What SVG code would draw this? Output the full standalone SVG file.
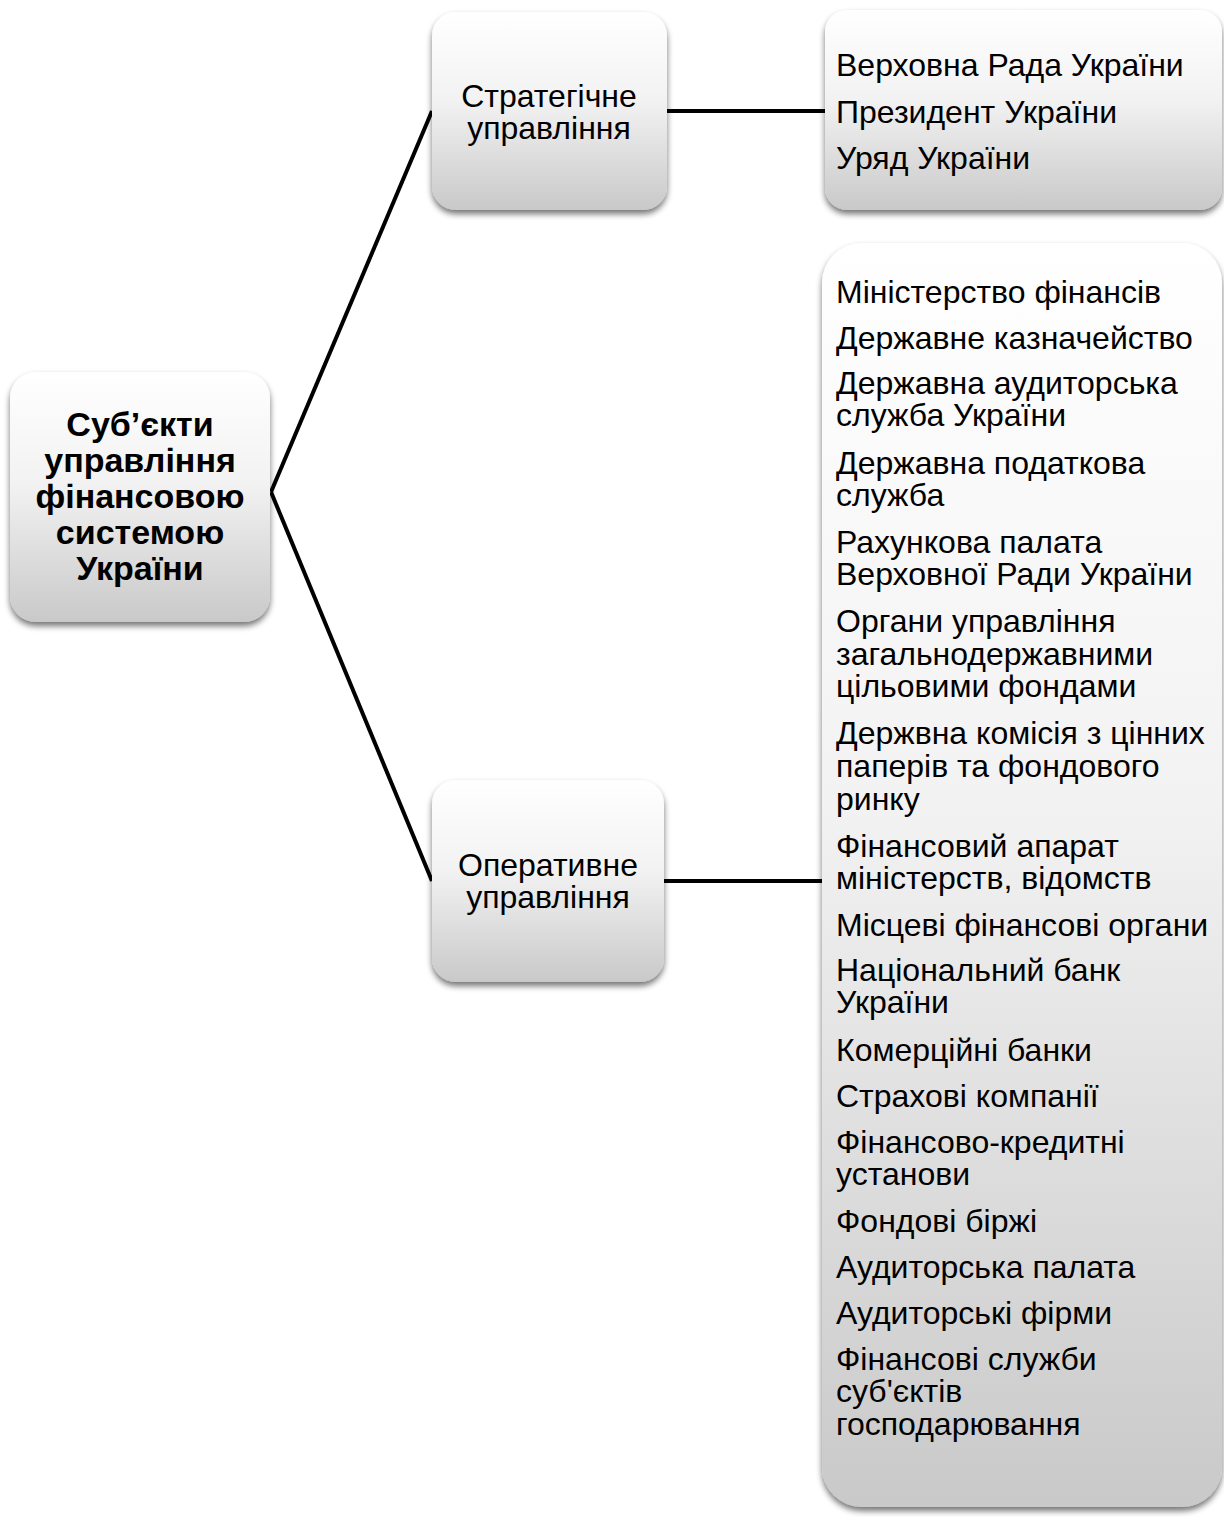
<svg xmlns="http://www.w3.org/2000/svg" width="1224" height="1517" viewBox="0 0 1224 1517">
<style>
  .box { fill: url(#g); filter: url(#sh); }
  .t { font-family: "Liberation Sans", Arimo, Arial, sans-serif; font-size: 32px; fill: #000; }
  .c { text-anchor: middle; }
  .b { font-weight: bold; font-size: 34px; }
  .conn { stroke: #000; stroke-width: 4; fill: none; }
</style>
<defs>
  <linearGradient id="g" x1="0" y1="0" x2="0" y2="1">
    <stop offset="0" stop-color="#ffffff"/>
    <stop offset="0.45" stop-color="#f2f2f2"/>
    <stop offset="1" stop-color="#c9c9c9"/>
  </linearGradient>
  <filter id="sh" x="-10%" y="-10%" width="120%" height="125%">
    <feGaussianBlur in="SourceAlpha" stdDeviation="3"/>
    <feOffset dx="0" dy="4" result="o"/>
    <feComponentTransfer><feFuncA type="linear" slope="0.55"/></feComponentTransfer>
    <feMerge><feMergeNode/><feMergeNode in="SourceGraphic"/></feMerge>
  </filter>
</defs>
<rect width="1224" height="1517" fill="#ffffff"/>
<g id="connectors">
  <line class="conn" x1="271" y1="492" x2="432" y2="111"/>
  <line class="conn" x1="271" y1="492" x2="432" y2="881"/>
  <line class="conn" x1="667" y1="111" x2="825" y2="111"/>
  <line class="conn" x1="664" y1="881" x2="822" y2="881"/>
</g>
<g id="root">
  <rect class="box" x="10" y="372" width="260" height="250" rx="26"/>
  <text class="t c b" x="140" y="436">Суб’єкти</text>
  <text class="t c b" x="140" y="472">управління</text>
  <text class="t c b" x="140" y="508">фінансовою</text>
  <text class="t c b" x="140" y="544">системою</text>
  <text class="t c b" x="140" y="580">України</text>
</g>
<g id="strategic">
  <rect class="box" x="432" y="12" width="235" height="198" rx="24"/>
  <text class="t c" x="549" y="107">Стратегічне</text>
  <text class="t c" x="549" y="139">управління</text>
</g>
<g id="operative">
  <rect class="box" x="432" y="780" width="232" height="202" rx="24"/>
  <text class="t c" x="548" y="876">Оперативне</text>
  <text class="t c" x="548" y="908">управління</text>
</g>
<g id="strategic-list">
  <rect class="box" x="825" y="10" width="397" height="200" rx="22"/>
  <text class="t" x="836" y="76">Верховна Рада України</text>
  <text class="t" x="836" y="123">Президент України</text>
  <text class="t" x="836" y="169">Уряд України</text>
</g>
<g id="operative-list">
  <rect class="box" x="822" y="243" width="400" height="1264" rx="40"/>
  <text class="t" x="836" y="303">Міністерство фінансів</text>
  <text class="t" x="836" y="349">Державне казначейство</text>
  <text class="t" x="836" y="394">Державна аудиторська</text>
  <text class="t" x="836" y="426">служба України</text>
  <text class="t" x="836" y="474">Державна податкова</text>
  <text class="t" x="836" y="506">служба</text>
  <text class="t" x="836" y="553">Рахункова палата</text>
  <text class="t" x="836" y="585">Верховної Ради України</text>
  <text class="t" x="836" y="632">Органи управління</text>
  <text class="t" x="836" y="665">загальнодержавними</text>
  <text class="t" x="836" y="697">цільовими фондами</text>
  <text class="t" x="836" y="744">Держвна комісія з цінних</text>
  <text class="t" x="836" y="777">паперів та фондового</text>
  <text class="t" x="836" y="810">ринку</text>
  <text class="t" x="836" y="857">Фінансовий апарат</text>
  <text class="t" x="836" y="889">міністерств, відомств</text>
  <text class="t" x="836" y="936">Місцеві фінансові органи</text>
  <text class="t" x="836" y="981">Національний банк</text>
  <text class="t" x="836" y="1013">України</text>
  <text class="t" x="836" y="1061">Комерційні банки</text>
  <text class="t" x="836" y="1107">Страхові компанії</text>
  <text class="t" x="836" y="1153">Фінансово-кредитні</text>
  <text class="t" x="836" y="1185">установи</text>
  <text class="t" x="836" y="1232">Фондові біржі</text>
  <text class="t" x="836" y="1278">Аудиторська палата</text>
  <text class="t" x="836" y="1324">Аудиторські фірми</text>
  <text class="t" x="836" y="1370">Фінансові служби</text>
  <text class="t" x="836" y="1402">суб'єктів</text>
  <text class="t" x="836" y="1435">господарювання</text>
</g>
</svg>
